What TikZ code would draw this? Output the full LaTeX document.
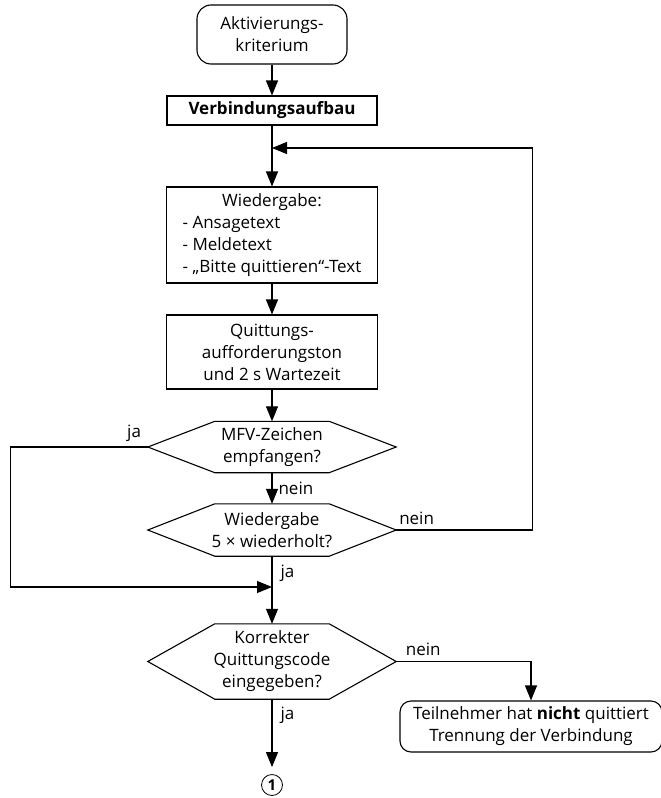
\documentclass[tikz,border=0pt]{standalone}
\usepackage{fontspec}
\setmainfont{Open Sans}
\usetikzlibrary{arrows.meta,calc}
\begin{document}
\begin{tikzpicture}[x=1pt,y=-1pt,
  every node/.style={font=\fontsize{17}{22}\selectfont},
  line/.style={line width=1.1pt},
  flow/.style={line width=1.1pt, -{Triangle[length=15pt,width=12pt]}},
  procbox/.style={draw, line width=1.1pt, rectangle, align=center, inner sep=0pt},
  termbox/.style={draw, line width=1.1pt, rounded corners=14pt, align=center, inner sep=0pt},
  hexbox/.style={rectangle, inner sep=0pt, align=center},
  lbl/.style={inner sep=0pt}
]
\useasboundingbox (0,0) rectangle (661,798);

% process steps
\node[termbox, minimum width=150pt, minimum height=59pt] (start) at (272,34.5)
  {Aktivierungs-\\kriterium};
\node[procbox, minimum width=210pt, minimum height=29pt] (verb) at (272,110.5)
  {\textbf{Verbindungsaufbau}};
\node[procbox, minimum width=211pt, minimum height=96pt] (wied) at (272,235)
  {\begin{tabular}{@{}l@{}}\multicolumn{1}{@{}c@{}}{Wiedergabe:}\\- Ansagetext\\- Meldetext\\- „Bitte quittieren“-Text\end{tabular}};
\node[procbox, minimum width=211pt, minimum height=74pt] (quitt) at (272,352)
  {Quittungs-\\aufforderungston\\und 2 s Wartezeit};

% decisions (hexagons drawn around their nodes)
\node[hexbox, minimum width=248pt, minimum height=51pt] (mfv) at (272,447)
  {MFV-Zeichen\\empfangen?};
\node[hexbox, minimum width=248pt, minimum height=52pt] (wdh) at (272,530)
  {Wiedergabe\\5 × wiederholt?};
\node[hexbox, minimum width=248pt, minimum height=75pt] (korr) at (272,661.5)
  {Korrekter\\Quittungscode\\eingegeben?};
\foreach \h in {mfv,wdh,korr}{
  \draw[line] (\h.west) -- ($(\h.north west)+(67,0)$) -- ($(\h.north east)+(-67,0)$)
    -- (\h.east) -- ($(\h.south east)+(-67,0)$) -- ($(\h.south west)+(67,0)$) -- cycle;
}

% end states
\node[termbox, rounded corners=11pt, minimum width=262pt, minimum height=51pt] (abbruch) at (531,726.5)
  {Teilnehmer hat \textbf{nicht} quittiert\\Trennung der Verbindung};
\node[draw, circle, line width=0.8pt, inner sep=0pt, minimum size=21pt,
  font=\fontsize{15}{15}\selectfont\bfseries] (weiter) at (272,785) {1};

% junction points on the main line
\coordinate (loop) at (272,148);
\coordinate (merge) at (272,587);

% main line
\draw[flow] (start) -- (verb);
\draw[flow] (verb) -- (wied);
\draw[flow] (wied) -- (quitt);
\draw[flow] (quitt) -- (mfv);
\draw[flow] (mfv) -- node[lbl, right=6pt] {nein} (wdh);
\draw[flow] (wdh) -- node[lbl, pos=0.25, right=8pt] {ja} (korr);
\draw[flow, shorten >=7pt] (korr) -- node[lbl, pos=0.22, right=8pt] {ja} (weiter);

% repeat loop back to the playback step
\draw[flow] (wdh.east) -- ++(136,0) node[lbl, pos=0.15, above=5pt] {nein} |- (loop);

% bypass when a tone was received
\draw[flow] (mfv.west) -- ++(-137,0) node[lbl, pos=0.1, above=5pt] {ja} |- (merge);

% wrong code: disconnect
\draw[flow] (korr.east) -| node[lbl, pos=0.1, above=5pt] {nein} (abbruch.north);
\end{tikzpicture}
\end{document}
